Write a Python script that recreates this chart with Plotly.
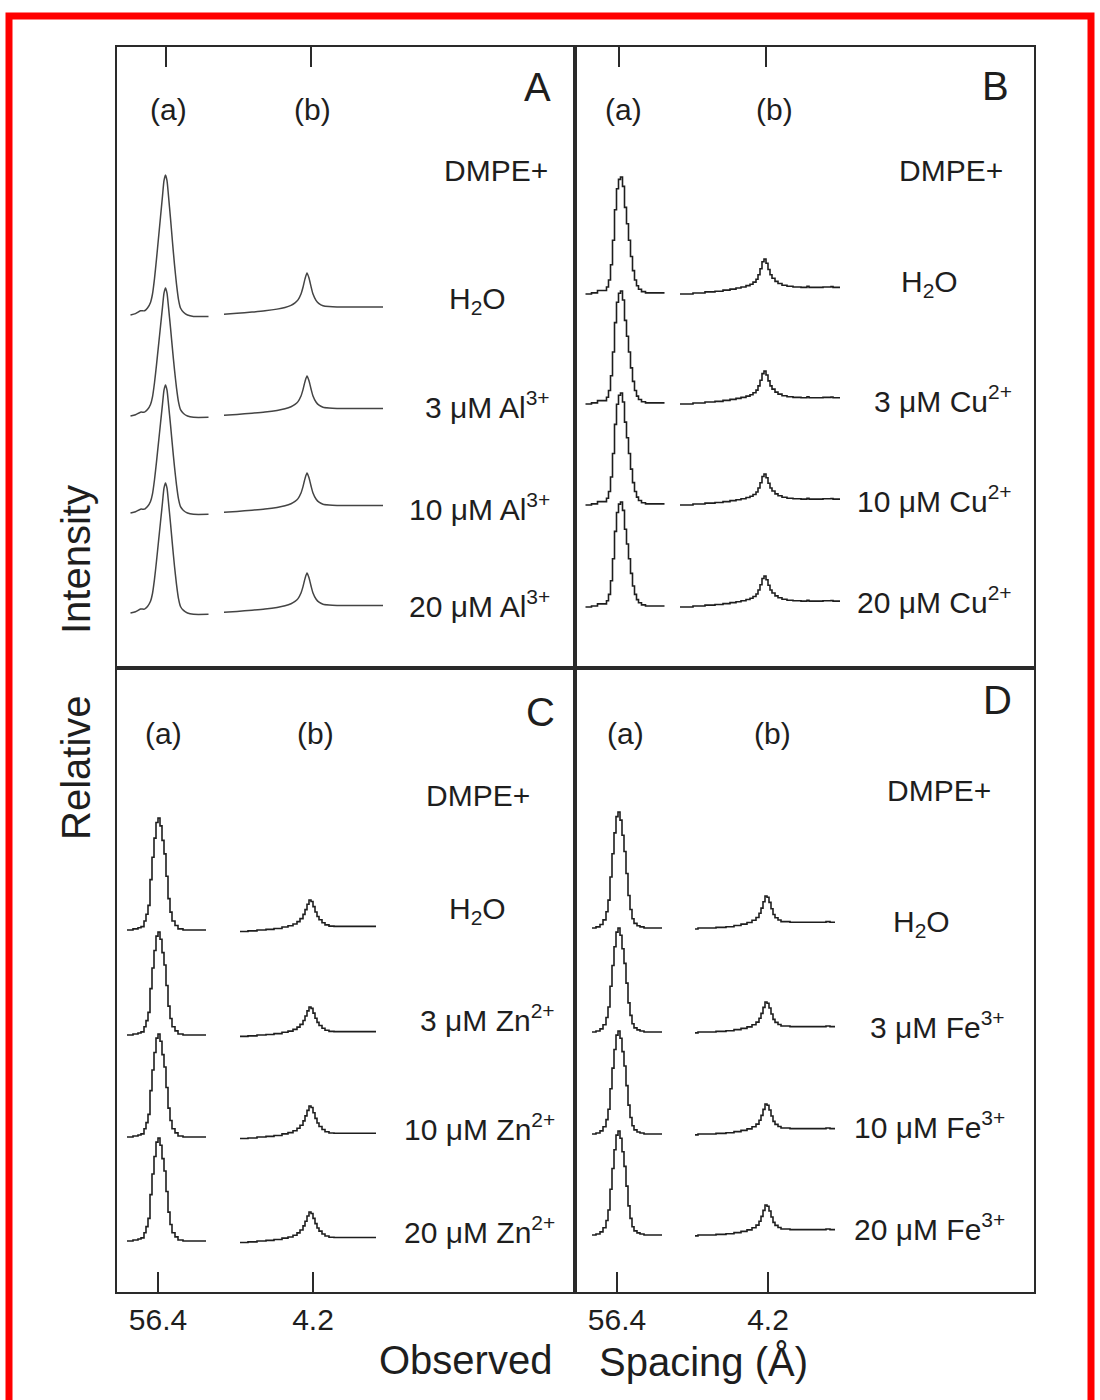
import plotly.graph_objects as go

W, H = 1100, 1400

# ---------------- data ----------------
tick_labels = ["56.4", "4.2"]

A_labels = ["H<sub>2</sub>O", "3 μM Al<sup>3+</sup>", "10 μM Al<sup>3+</sup>", "20 μM Al<sup>3+</sup>"]
B_labels = ["H<sub>2</sub>O", "3 μM Cu<sup>2+</sup>", "10 μM Cu<sup>2+</sup>", "20 μM Cu<sup>2+</sup>"]
C_labels = ["H<sub>2</sub>O", "3 μM Zn<sup>2+</sup>", "10 μM Zn<sup>2+</sup>", "20 μM Zn<sup>2+</sup>"]
D_labels = ["H<sub>2</sub>O", "3 μM Fe<sup>3+</sup>", "10 μM Fe<sup>3+</sup>", "20 μM Fe<sup>3+</sup>"]

# detector channel of peak (a) and (b), and of the labelled ticks
A_center = [48.5, 190]
B_center = [44.5, 188]
C_center = [41, 193]
D_center = [43, 191]
A_ticks = [49, 194]
B_ticks = [44, 191]
C_ticks = [41, 196]
D_ticks = [42, 193]

# baselines, (a) heights, (b) heights (relative intensity units)
A_base = [353, 252, 155, 55]
A_ha = [140, 128, 128, 130]
A_hb = [42, 40, 40, 40]
B_base = [374, 264, 163, 61]
B_ha = [117, 113, 112, 105]
B_hb = [35, 33, 31, 31]
C_base = [362, 257, 155, 51]
C_ha = [112, 103, 103, 103]
C_hb = [30, 28, 31, 29]
D_base = [364, 260, 158, 57]
D_ha = [116, 104, 103, 104]
D_hb = [32, 30, 30, 30]

# normalized peak profiles (channel offset, intensity)
A_dx_a = [-35, -30, -25, -21, -18, -15, -13, -11, -9, -7, -5, -3, -1.5, 0, 1.5, 3, 5, 7, 9, 11, 13, 15, 18, 22, 28, 43]
A_sh_a = [0.0, 0.01, 0.03, 0.03, 0.05, 0.09, 0.15, 0.26, 0.4, 0.55, 0.7, 0.85, 0.96, 1.0, 0.96, 0.85, 0.69, 0.52, 0.36, 0.22, 0.11, 0.05, 0.02, 0.0, -0.01, -0.01]
A_dx_b = [-83, -70, -55, -42, -30, -22, -16, -12, -9, -6, -4, -2, 0, 2, 4, 6, 9, 12, 16, 22, 30, 45, 60, 76]
A_sh_b = [0.02, 0.04, 0.07, 0.1, 0.14, 0.18, 0.23, 0.29, 0.36, 0.5, 0.66, 0.86, 1.0, 0.88, 0.68, 0.5, 0.35, 0.27, 0.22, 0.2, 0.19, 0.19, 0.19, 0.19]

B_dx_a = [-34, -28, -22, -16, -13, -11, -9, -7, -5, -3, -1, 1, 3, 5, 7, 9, 11, 13, 15, 17, 19, 22, 26, 32, 45]
B_sh_a = [0.0, 0.01, 0.03, 0.03, 0.06, 0.12, 0.25, 0.46, 0.72, 0.9, 0.98, 1.0, 0.92, 0.74, 0.6, 0.46, 0.32, 0.2, 0.12, 0.07, 0.04, 0.02, 0.01, 0.01, 0.01]
B_dx_b = [-83, -70, -58, -48, -40, -33, -27, -22, -17, -13, -10, -7, -5, -3, -1, 1, 3, 5, 7, 9, 12, 15, 19, 24, 30, 38, 44, 46, 52, 60, 68, 70, 77]
B_sh_b = [0.0, 0.03, 0.06, 0.08, 0.11, 0.14, 0.17, 0.2, 0.24, 0.28, 0.34, 0.42, 0.55, 0.72, 0.92, 1.0, 0.88, 0.7, 0.55, 0.45, 0.36, 0.3, 0.25, 0.22, 0.2, 0.19, 0.22, 0.19, 0.19, 0.2, 0.21, 0.19, 0.19]

C_dx_a = [-31, -25, -20, -17, -14, -12, -10, -8, -6, -4, -2, 0, 2, 4, 6, 8, 10, 12, 14, 17, 20, 25, 35, 48]
C_sh_a = [0.0, 0.01, 0.02, 0.03, 0.08, 0.14, 0.22, 0.45, 0.65, 0.82, 0.96, 1.0, 0.93, 0.8, 0.68, 0.48, 0.28, 0.16, 0.08, 0.04, 0.01, 0.0, 0.0, 0.0]
C_dx_b = [-70, -62, -53, -44, -36, -28, -22, -17, -13, -10, -7, -5, -3, -1, 1, 3, 5, 7, 9, 12, 15, 19, 24, 30, 40, 50, 58, 66]
C_sh_b = [-0.05, -0.03, 0.0, 0.02, 0.05, 0.1, 0.14, 0.2, 0.28, 0.38, 0.52, 0.68, 0.86, 1.0, 0.95, 0.78, 0.6, 0.45, 0.34, 0.24, 0.17, 0.13, 0.12, 0.12, 0.12, 0.12, 0.12, 0.12]

D_dx_a = [-26, -22, -18, -15, -12, -10, -8, -6, -4, -2, 0, 2, 4, 6, 8, 10, 12, 14, 16, 19, 22, 26, 30, 36, 44]
D_sh_a = [0.0, 0.01, 0.03, 0.07, 0.14, 0.24, 0.44, 0.64, 0.82, 0.96, 1.0, 0.93, 0.8, 0.66, 0.47, 0.28, 0.16, 0.08, 0.04, 0.02, 0.01, 0.0, 0.0, 0.0, 0.0]
D_dx_b = [-71, -68, -60, -50, -40, -32, -25, -19, -14, -10, -7, -5, -3, -1, 1, 3, 5, 7, 9, 12, 15, 19, 24, 30, 40, 50, 60, 64, 69]
D_sh_b = [-0.03, 0.0, 0.0, 0.02, 0.04, 0.08, 0.12, 0.17, 0.24, 0.33, 0.46, 0.62, 0.82, 1.0, 0.96, 0.8, 0.6, 0.42, 0.32, 0.25, 0.2, 0.2, 0.18, 0.18, 0.18, 0.18, 0.2, 0.18, 0.18]

# ---------------- figure ----------------
FONT = "Liberation Sans, Arial, Helvetica, sans-serif"
TXT = "#1e1e1e"
AX = "#2a2a2a"


def P(x, y):
    return x / W, 1 - y / H


fig = go.Figure()

panels = [
    ("x", "y", A_center, A_dx_a, A_sh_a, A_dx_b, A_sh_b, A_base, A_ha, A_hb, "spline", "#444444", 1.5),
    ("x2", "y2", B_center, B_dx_a, B_sh_a, B_dx_b, B_sh_b, B_base, B_ha, B_hb, "hv", "#1e1e1e", 1.6),
    ("x3", "y3", C_center, C_dx_a, C_sh_a, C_dx_b, C_sh_b, C_base, C_ha, C_hb, "hv", "#1e1e1e", 1.6),
    ("x4", "y4", D_center, D_dx_a, D_sh_a, D_dx_b, D_sh_b, D_base, D_ha, D_hb, "hv", "#1e1e1e", 1.6),
]

for xa, ya, cen, dxa, sha, dxb, shb, base, ha, hb, shape, col, lw in panels:
    for b0, h1, h2 in zip(base, ha, hb):
        for c, dx, sh, h in ((cen[0], dxa, sha, h1), (cen[1], dxb, shb, h2)):
            line = dict(color=col, width=lw, shape=shape)
            if shape == "spline":
                line["smoothing"] = 0.6
            fig.add_trace(go.Scatter(
                x=[c + d for d in dx], y=[b0 + h * s for s in sh],
                mode="lines", line=line, xaxis=xa, yaxis=ya,
                showlegend=False, hoverinfo="skip"))

# domains from panel pixel edges
xl = [117 / W, 575 / W]
xr = [575 / W, 1034 / W]
yt = [1 - 668 / H, 1 - 47 / H]
yb = [1 - 1292 / H, 1 - 668 / H]

common_x = dict(showline=True, mirror=True, linecolor=AX, linewidth=1.6, showgrid=False,
                zeroline=False, ticks="inside", ticklen=20, tickwidth=1.5, tickcolor=AX,
                tickfont=dict(family=FONT, size=30, color=TXT), tickmode="array",
                ticktext=tick_labels)
common_y = dict(showline=True, mirror=True, linecolor=AX, linewidth=1.6, showgrid=False,
                zeroline=False, showticklabels=False, ticks="")

fig.update_layout(
    width=W, height=H, margin=dict(l=0, r=0, t=0, b=0),
    paper_bgcolor="white", plot_bgcolor="white",
    xaxis=dict(common_x, domain=xl, range=[0, 458], side="top", showticklabels=False,
               tickvals=A_ticks, anchor="y"),
    yaxis=dict(common_y, domain=yt, range=[0, 621], anchor="x"),
    xaxis2=dict(common_x, domain=xr, range=[0, 459], side="top", showticklabels=False,
                tickvals=B_ticks, anchor="y2"),
    yaxis2=dict(common_y, domain=yt, range=[0, 621], anchor="x2"),
    xaxis3=dict(common_x, domain=xl, range=[0, 458], side="bottom", tickvals=C_ticks,
                anchor="y3"),
    yaxis3=dict(common_y, domain=yb, range=[0, 624], anchor="x3"),
    xaxis4=dict(common_x, domain=xr, range=[0, 459], side="bottom", tickvals=D_ticks,
                anchor="y4"),
    yaxis4=dict(common_y, domain=yb, range=[0, 624], anchor="x4"),
)

ann = []


def add_text(text, x, y, size=30, xanchor="center", angle=0):
    px, py = P(x, y)
    ann.append(dict(text=text, x=px, y=py, xref="paper", yref="paper", showarrow=False,
                    xanchor=xanchor, yanchor="middle", textangle=angle,
                    font=dict(family=FONT, size=size, color=TXT)))


# panel letters and (a)/(b)
for letter, lx, ly, ax_, bx_, aby in (("A", 537, 87, 168, 312, 110), ("B", 995, 86, 623, 774, 110),
                                       ("C", 540, 712, 163, 315, 733), ("D", 997, 700, 625, 772, 733)):
    add_text(letter, lx, ly, size=40)
    add_text("(a)", ax_, aby)
    add_text("(b)", bx_, aby)

# DMPE+ headers
add_text("DMPE+", 550, 170, xanchor="right")
add_text("DMPE+", 1005, 170, xanchor="right")
add_text("DMPE+", 532, 795, xanchor="right")
add_text("DMPE+", 993, 790, xanchor="right")

# condition labels
A_ly = [300, 405, 507, 604]
B_ly = [283, 399, 499, 600]
C_ly = [910, 1018, 1127, 1230]
D_ly = [923, 1025, 1125, 1227]
for labels, ly, hx, rx in ((A_labels, A_ly, 477, 552), (B_labels, B_ly, 929, 1014),
                           (C_labels, C_ly, 477, 557), (D_labels, D_ly, 921, 1007)):
    add_text(labels[0], hx, ly[0])
    for t, y in zip(labels[1:], ly[1:]):
        add_text(t, rx, y, xanchor="right")

# axis titles
add_text("Intensity", 76, 560, size=40, angle=-90)
add_text("Relative", 76, 768, size=40, angle=-90)
add_text("Observed", 465, 1360, size=40)
add_text("Spacing (Å)", 703, 1362, size=40)

fig.update_layout(annotations=ann)

# red frame around the figure
x0, _ = P(9, 0)
x1, _ = P(1091, 0)
_, y1 = P(0, 16)
fig.add_shape(type="rect", xref="paper", yref="paper", x0=x0, x1=x1, y0=-0.05, y1=y1,
              line=dict(color="#ff0000", width=7), fillcolor="rgba(0,0,0,0)", layer="above")

fig.write_html("out.html")
